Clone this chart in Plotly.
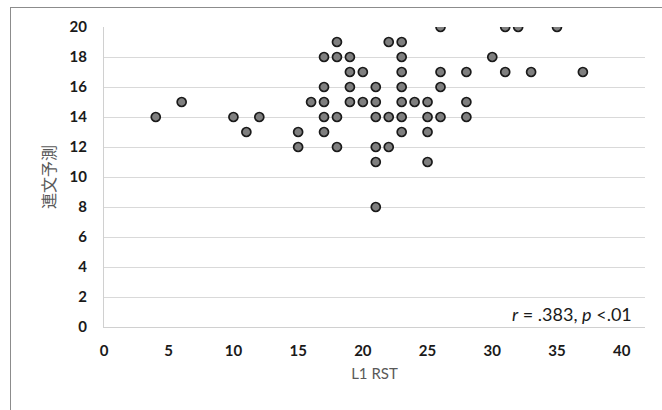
import plotly.graph_objects as go

# Data
l1_rst = [4, 6, 10, 11, 12, 15, 15, 16,
          18, 22, 23,
          17, 18, 19, 23,
          19, 20, 23,
          17, 19, 21, 23,
          17, 19, 20, 21, 23, 24, 25,
          17, 18, 21, 22, 23, 25,
          17, 23, 25,
          18, 21, 22,
          21, 25, 21,
          26, 31, 32, 35,
          30,
          26, 28, 31, 33, 37,
          26, 28, 26, 28]
renbun = [14, 15, 14, 13, 14, 13, 12, 15,
          19, 19, 19,
          18, 18, 18, 18,
          17, 17, 17,
          16, 16, 16, 16,
          15, 15, 15, 15, 15, 15, 15,
          14, 14, 14, 14, 14, 14,
          13, 13, 13,
          12, 12, 12,
          11, 11, 8,
          20, 20, 20, 20,
          18,
          17, 17, 17, 17, 17,
          16, 15, 14, 14]

x_ticks = [0, 5, 10, 15, 20, 25, 30, 35, 40]
y_ticks = [0, 2, 4, 6, 8, 10, 12, 14, 16, 18, 20]
x_title = "L1 RST"
y_title = "連文予測"
stat_text = "<i>r</i> = .383, <i>p</i> &lt;.01"

W, H = 662, 410
L, R, T, B = 104, 17, 27, 83
pw, ph = W - L - R, H - T - B


def px_x(p):
    return (p - L) / pw


def px_y(p):
    return (T + ph - p) / ph


fig = go.Figure()
fig.add_trace(go.Scatter(
    x=l1_rst, y=renbun, mode="markers",
    marker=dict(size=9, color="#7f7f7f", line=dict(color="#1a1a1a", width=1.7)),
    hoverinfo="x+y", showlegend=False,
))

tick_font = dict(family="Lato, 'Open Sans', sans-serif", size=15, color="#1a1a1a", weight="bold")

# chart frame (left and top edges visible in the reference), as thin filled bars
frame = [
    dict(type="rect", xref="paper", yref="paper",
         x0=px_x(10), x1=px_x(11), y0=px_y(7), y1=px_y(H + 10),
         line=dict(width=0), fillcolor="#8c8c8c", layer="above"),
    dict(type="rect", xref="paper", yref="paper",
         x0=px_x(10), x1=px_x(W + 10), y0=px_y(7), y1=px_y(8),
         line=dict(width=0), fillcolor="#8c8c8c", layer="above"),
]

fig.update_layout(
    width=W, height=H,
    margin=dict(l=L, r=R, t=T, b=B, autoexpand=False),
    paper_bgcolor="white", plot_bgcolor="white",
    xaxis=dict(
        range=[0, 41.8], tickvals=x_ticks, ticktext=[str(v) for v in x_ticks],
        showgrid=False, zeroline=False,
        showline=True, linecolor="#d0d0d0", linewidth=1,
        ticks="outside", ticklen=10, tickcolor="rgba(0,0,0,0)",
        tickfont=tick_font,
        title=dict(text=x_title, font=dict(family="Lato, sans-serif", size=15, color="#595959"), standoff=10),
    ),
    yaxis=dict(
        range=[0, 20], tickvals=y_ticks, ticktext=[str(v) for v in y_ticks],
        showgrid=True, gridcolor="#d9d9d9", gridwidth=1, zeroline=False,
        showline=True, linecolor="#d0d0d0", linewidth=1,
        ticks="outside", ticklen=13, tickcolor="rgba(0,0,0,0)",
        tickfont=tick_font,
        title=dict(text=y_title, font=dict(family="Noto Sans CJK JP, sans-serif", size=16, color="#595959"), standoff=9),
    ),
    shapes=frame,
    annotations=[dict(
        text=stat_text, xref="paper", yref="paper",
        x=px_x(634), y=px_y(314),
        xanchor="right", yanchor="middle", showarrow=False,
        font=dict(family="Lato, sans-serif", size=18, color="#1a1a1a"),
    )],
)

fig.write_html(
    "out.html",
    config={"displayModeBar": False},
    post_script="document.body.style.margin='0';document.body.style.overflow='hidden';",
)
